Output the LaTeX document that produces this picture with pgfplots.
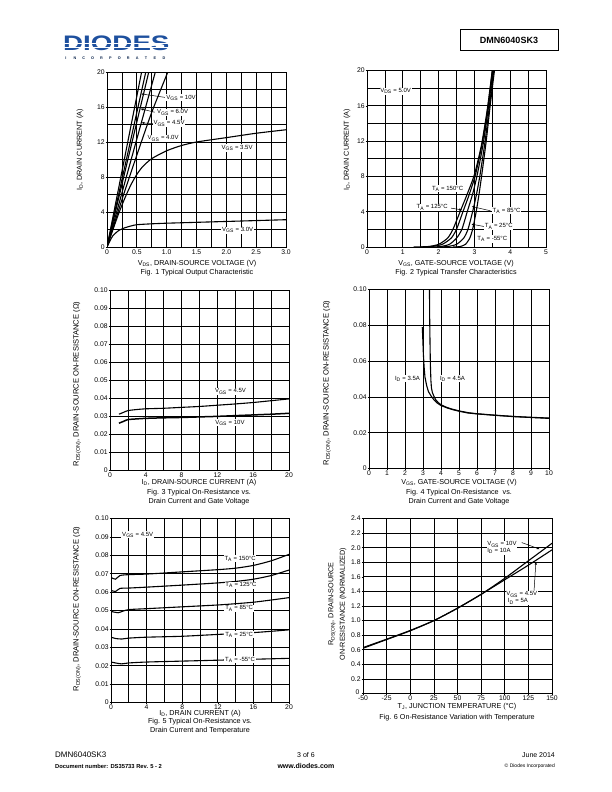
\documentclass[border=0pt]{standalone}
\usepackage{fontspec}
\setmainfont{Liberation Sans}
\usepackage{pgfplots}
\pgfplotsset{compat=1.18}
\usetikzlibrary{arrows.meta}
\definecolor{dblue}{RGB}{30,80,158}
\newcommand\axl{\fontsize{7.2}{8.5}\selectfont}
\newcommand\ayl{\fontsize{7.6}{8.5}\selectfont}
\pgfplotsset{
 ds/.style={scale only axis, anchor=north west, axis line style={line width=0.9pt},
  grid=both, major grid style={black,line width=0.75pt}, minor grid style={black,line width=0.75pt},
  xtick pos=bottom, ytick pos=left, tick align=outside, major tick length=1.3pt, minor tick length=0pt,
  tick style={black,line width=0.6pt},
  ticklabel style={font=\fontsize{6.8}{7.5}\selectfont, inner sep=0.9pt},
  /pgf/number format/assume math mode=true},
}
\tikzset{
 cv/.style={black, line width=1.1pt, mark=none, smooth, tension=0.4},
 lab/.style={font=\fontsize{6}{7}\selectfont, fill=white, inner sep=0.8pt},
 arr/.style={line width=0.5pt, -{Latex[length=3pt,width=2.4pt]}},
}
\begin{document}
\begin{tikzpicture}
\path[use as bounding box, fill=white] (0,0) rectangle (612pt,-792pt);
% header
\node[anchor=south west, inner sep=0, text=dblue, font=\fontsize{21}{21}\selectfont\bfseries] at (63pt,-51pt) {\scalebox{1.32}[1]{DIODES}};
\fill[white] (62pt,-42.6pt) rectangle (172pt,-43.4pt);
\fill[white] (62pt,-46.6pt) rectangle (172pt,-47.2pt);
\foreach \l [count=\i] in {I,N,C,O,R,P,O,R,A,T,E,D}
  \node[font=\fontsize{3.8}{4}\selectfont\bfseries, text=dblue!50!black, inner sep=0] at ({66pt+(\i-1)*8.9pt},-58.3pt) {\l};
\draw[line width=0.8pt] (460pt,-29.5pt) rectangle (558pt,-50.5pt);
\node[font=\fontsize{9}{10}\selectfont\bfseries] at (509pt,-40pt) {DMN6040SK3};
% footer
\node[anchor=west, font=\fontsize{8}{9}\selectfont, inner sep=0] at (55pt,-755pt) {DMN6040SK3};
\node[anchor=west, font=\fontsize{5.8}{7}\selectfont\bfseries, inner sep=0] at (55pt,-766pt) {Document number: DS35733 Rev. 5 - 2};
\node[font=\fontsize{7}{8}\selectfont, inner sep=0] at (306pt,-755pt) {3 of 6};
\node[font=\fontsize{7}{8}\selectfont\bfseries, inner sep=0] at (306pt,-766pt) {www.diodes.com};
\node[anchor=east, font=\fontsize{7}{8}\selectfont, inner sep=0] at (555pt,-755pt) {June 2014};
\node[anchor=east, font=\fontsize{5}{6}\selectfont, inner sep=0] at (555pt,-766pt) {© Diodes Incorporated};

% ---------------- Fig 1
\begin{axis}[ds, at={(107pt,-72pt)}, width=179pt, height=175pt,
  xmin=0, xmax=3, ymin=0, ymax=20, xtick={0,0.5,...,3}, xticklabels={0,0.5,1.0,1.5,2.0,2.5,3.0},
  ytick={0,4,...,20}, minor x tick num=1, minor y tick num=1]
\addplot[cv] coordinates {(0,0)(0.58,20)};
\addplot[cv] coordinates {(0,0)(0.65,20)};
\addplot[cv] coordinates {(0,0)(0.70,20)};
\addplot[cv] coordinates {(0,0)(0.81,20)};
\addplot[cv] coordinates {(0,0)(0.25,5.4)(0.5,10.5)(0.75,15.4)(1.02,20)};
\addplot[cv] coordinates {(0,0)(0.1,2.0)(0.2,3.9)(0.3,5.6)(0.4,7.1)(0.5,8.3)(0.6,9.2)(0.75,10.1)(1.0,11.0)(1.25,11.6)(1.5,12.0)(2.0,12.5)(2.5,13.0)(3.0,13.4)};
\addplot[cv] coordinates {(0,0)(0.05,0.7)(0.1,1.3)(0.2,1.9)(0.3,2.2)(0.4,2.4)(0.5,2.55)(0.75,2.65)(1.0,2.72)(1.5,2.82)(2.0,2.92)(2.5,3.02)(3.0,3.12)};
\draw[arr] (axis cs:0.97,17.1) -- (axis cs:0.57,17.5);
\draw[arr] (axis cs:0.8,15.4) -- (axis cs:0.56,15.8);
\draw[arr] (axis cs:0.78,14.1) -- (axis cs:0.575,14.2);
\node[lab] at (axis cs:1.24,17.06) {V\textsubscript{GS} = 10V};
\node[lab] at (axis cs:1.1,15.4) {V\textsubscript{GS} = 6.0V};
\node[lab] at (axis cs:1.04,14.1) {V\textsubscript{GS} = 4.5V};
\node[lab] at (axis cs:0.94,12.4) {V\textsubscript{GS} = 4.0V};
\node[lab] at (axis cs:2.18,11.3) {V\textsubscript{GS} = 3.5V};
\node[lab] at (axis cs:2.19,1.92) {V\textsubscript{GS} = 3.0V};
\end{axis}
\node[rotate=90, font=\axl] at (80pt,-150pt) {I\textsubscript{D}, DRAIN CURRENT (A)};
\node[font=\axl] at (197pt,-263.5pt) {V\textsubscript{DS}, DRAIN-SOURCE VOLTAGE (V)};
\node[font=\axl] at (197pt,-273pt) {Fig. 1 Typical Output Characteristic};

% ---------------- Fig 2
\begin{axis}[ds, at={(367pt,-70.5pt)}, width=179pt, height=176.5pt,
  xmin=0, xmax=5, ymin=0, ymax=20, xtick={0,1,...,5}, ytick={0,4,...,20}, minor x tick num=1, minor y tick num=1]
\addplot[cv] coordinates {(1.3,0)(1.7,0.05)(2.0,0.3)(2.25,1)(2.4,2)(2.6,4)(2.8,6)(3.0,8.2)(3.2,11.6)(3.36,15.6)(3.5,20)};
\addplot[cv] coordinates {(1.5,0)(1.8,0.05)(2.1,0.3)(2.35,1)(2.5,2)(2.68,4)(2.86,6)(3.03,8.2)(3.22,11.8)(3.37,15.6)(3.5,20)};
\addplot[cv] coordinates {(1.8,0)(2.05,0.05)(2.3,0.3)(2.5,1)(2.65,2)(2.8,4)(2.95,6)(3.08,8.2)(3.25,11.8)(3.39,15.8)(3.52,20)};
\addplot[cv] coordinates {(2.0,0)(2.25,0.05)(2.5,0.3)(2.7,1)(2.82,2)(2.95,4)(3.06,6)(3.15,8)(3.3,12)(3.42,16)(3.54,20)};
\addplot[cv] coordinates {(2.4,0)(2.6,0.05)(2.75,0.3)(2.87,1)(2.95,2)(3.05,4)(3.13,6)(3.2,8)(3.33,12)(3.44,16)(3.56,20)};
\draw[arr] (axis cs:2.35,4.4) -- (axis cs:2.66,4.2);
\draw[arr] (axis cs:3.45,4.1) -- (axis cs:2.92,4.6);
\draw[arr] (axis cs:3.3,2.3) -- (axis cs:2.91,2.6);
\node[lab] at (axis cs:0.8,17.66) {V\textsubscript{DS} = 5.0V};
\node[lab] at (axis cs:2.25,6.6) {T\textsubscript{A} = 150°C};
\node[lab] at (axis cs:1.82,4.5) {T\textsubscript{A} = 125°C};
\node[lab] at (axis cs:3.9,4.1) {T\textsubscript{A} = 85°C};
\node[lab] at (axis cs:3.68,2.35) {T\textsubscript{A} = 25°C};
\node[lab] at (axis cs:3.5,0.9) {T\textsubscript{A} = -55°C};
\end{axis}
\node[rotate=90, font=\axl] at (347pt,-150pt) {I\textsubscript{D}, DRAIN CURRENT (A)};
\node[font=\axl] at (456pt,-263.5pt) {V\textsubscript{GS}, GATE-SOURCE VOLTAGE (V)};
\node[font=\axl] at (456pt,-273pt) {Fig. 2 Typical Transfer Characteristics};

% ---------------- Fig 3
\begin{axis}[ds, at={(110pt,-290pt)}, width=179pt, height=180pt,
  xmin=0, xmax=20, ymin=0, ymax=0.1, xtick={0,4,...,20}, minor x tick num=1,
  ytick={0,0.01,...,0.1}, yticklabels={0,0.01,0.02,0.03,0.04,0.05,0.06,0.07,0.08,0.09,0.10}]
\addplot[cv] coordinates {(1,0.031)(1.5,0.032)(2,0.033)(3,0.0336)(4,0.034)(6,0.0343)(8,0.0348)(10,0.0353)(12,0.036)(14,0.0367)(16,0.0375)(18,0.0385)(20,0.0395)};
\addplot[cv, line width=1.5pt] coordinates {(1,0.026)(1.5,0.027)(2,0.028)(3,0.0284)(4,0.0287)(6,0.029)(8,0.0292)(10,0.0295)(12,0.0298)(14,0.0302)(16,0.0306)(18,0.031)(20,0.0315)};
\node[lab] at (axis cs:13.46,0.0437) {V\textsubscript{GS} = 4.5V};
\node[lab] at (axis cs:13.4,0.0262) {V\textsubscript{GS} = 10V};
\end{axis}
\node[rotate=90, font=\ayl] at (77pt,-384pt) {R\textsubscript{DS(ON)}, DRAIN-SOURCE ON-RESISTANCE (Ω)};
\node[font=\axl] at (199pt,-483pt) {I\textsubscript{D}, DRAIN-SOURCE CURRENT (A)};
\node[font=\axl] at (199pt,-492.5pt) {Fig. 3 Typical On-Resistance vs.};
\node[font=\axl] at (199pt,-501.8pt) {Drain Current and Gate Voltage};

% ---------------- Fig 4
\begin{axis}[ds, at={(369pt,-289.5pt)}, width=180pt, height=179pt,
  xmin=0, xmax=10, ymin=0, ymax=0.1, xtick={0,1,...,10},
  ytick={0,0.02,...,0.1}, yticklabels={\raisebox{1.5pt}{0},0.02,0.04,0.06,0.08,0.10}]
\addplot[black, line width=1.1pt, mark=none] coordinates {(2.96,0.079)(2.99,0.072)(3.02,0.064)(3.06,0.057)(3.11,0.051)(3.2,0.0465)(3.3,0.043)(3.45,0.0405)(3.6,0.0385)(3.8,0.0365)(4.0,0.0352)(4.3,0.034)(4.6,0.033)(5,0.032)(5.5,0.031)(6,0.0305)(7,0.0297)(8,0.029)(9,0.0285)(10,0.028)};
\addplot[black, line width=1.1pt, mark=none] coordinates {(3.36,0.10)(3.37,0.085)(3.39,0.07)(3.41,0.058)(3.44,0.049)(3.47,0.045)(3.52,0.0425)(3.6,0.0405)(3.7,0.0385)(3.85,0.0368)(4.0,0.0356)(4.3,0.0342)(4.6,0.0332)(5,0.0322)(5.5,0.0312)(6,0.0306)(7,0.0298)(8,0.0291)(9,0.0286)(10,0.0282)};
\node[lab] at (axis cs:2.14,0.0501) {I\textsubscript{D} = 3.5A};
\node[lab] at (axis cs:4.64,0.0501) {I\textsubscript{D} = 4.5A};
\end{axis}
\node[rotate=90, font=\ayl] at (327pt,-383pt) {R\textsubscript{DS(ON)}, DRAIN-SOURCE ON-RESISTANCE (Ω)};
\node[font=\axl] at (459pt,-483pt) {V\textsubscript{GS}, GATE-SOURCE VOLTAGE (V)};
\node[font=\axl] at (459pt,-492.5pt) {Fig. 4 Typical On-Resistance \ vs.};
\node[font=\axl] at (459pt,-501.8pt) {Drain Current and Gate Voltage};

% ---------------- Fig 5
\begin{axis}[ds, at={(111pt,-518.5pt)}, width=178pt, height=184pt,
  xmin=0, xmax=20, ymin=0, ymax=0.1, xtick={0,4,...,20}, minor x tick num=1,
  ytick={0,0.01,...,0.1}, yticklabels={0,0.01,0.02,0.03,0.04,0.05,0.06,0.07,0.08,0.09,0.10}]
\addplot[cv] coordinates {(0,0.068)(0.5,0.067)(1,0.069)(2,0.0695)(4,0.0698)(8,0.071)(12,0.0722)(14,0.073)(16,0.0745)(18,0.077)(20,0.0805)};
\addplot[cv] coordinates {(0,0.061)(0.5,0.0603)(1,0.062)(2,0.0622)(4,0.0627)(8,0.0638)(12,0.065)(14,0.0658)(16,0.067)(18,0.069)(20,0.072)};
\addplot[cv] coordinates {(0,0.0495)(0.8,0.0488)(1.3,0.0496)(2,0.0505)(4,0.051)(8,0.052)(12,0.053)(14,0.0537)(16,0.0545)(18,0.0557)(20,0.057)};
\addplot[cv] coordinates {(0,0.0355)(0.5,0.0348)(1.2,0.0345)(2,0.035)(4,0.0355)(8,0.036)(12,0.037)(16,0.038)(18,0.0387)(20,0.0395)};
\addplot[cv] coordinates {(0,0.022)(0.5,0.0215)(1.2,0.021)(2,0.0215)(4,0.022)(8,0.0225)(12,0.023)(16,0.0235)(20,0.024)};
\node[lab] at (axis cs:3.0,0.0912) {V\textsubscript{GS} = 4.5V};
\node[lab] at (axis cs:14.5,0.0782) {T\textsubscript{A} = 150°C};
\node[lab] at (axis cs:14.6,0.0638) {T\textsubscript{A} = 125°C};
\node[lab] at (axis cs:14.4,0.0512) {T\textsubscript{A} = 85°C};
\node[lab] at (axis cs:14.4,0.0368) {T\textsubscript{A} = 25°C};
\node[lab] at (axis cs:14.5,0.0232) {T\textsubscript{A} = -55°C};
\end{axis}
\node[rotate=90, font=\ayl] at (77pt,-609pt) {R\textsubscript{DS(ON)}, DRAIN-SOURCE ON-RESISTANCE (Ω)};
\node[font=\axl] at (200pt,-713.5pt) {I\textsubscript{D}, DRAIN CURRENT (A)};
\node[font=\axl] at (200pt,-722pt) {Fig. 5 Typical On-Resistance vs.};
\node[font=\axl] at (200pt,-731pt) {Drain Current and Temperature};

% ---------------- Fig 6
\begin{axis}[ds, at={(363pt,-518.5pt)}, width=189pt, height=175pt,
  xmin=-50, xmax=150, ymin=0, ymax=2.4, xtick={-50,-25,...,150},
  ytick={0,0.2,...,2.4}, yticklabels={\raisebox{2.5pt}{0\,},0.2,0.4,0.6,0.8,1.0,1.2,1.4,1.6,1.8,2.0,2.2,2.4}]
\addplot[cv] coordinates {(-50,0.62)(-25,0.74)(0,0.86)(25,1.0)(50,1.17)(75,1.36)(100,1.58)(125,1.82)(150,2.06)};
\addplot[cv] coordinates {(-50,0.63)(-25,0.745)(0,0.865)(25,1.0)(50,1.17)(75,1.36)(100,1.56)(125,1.76)(150,1.97)};
\draw[arr] (axis cs:118,2.07) -- (axis cs:137,1.98);
\draw[arr] (axis cs:131,1.41) -- (axis cs:133,1.81);
\node[lab, align=left, anchor=center] at (axis cs:97,2.0) {V\textsubscript{GS} = 10V\\I\textsubscript{D} = 10A};
\node[lab, align=left, anchor=center] at (axis cs:118,1.31) {V\textsubscript{GS} = 4.5V\\ \ I\textsubscript{D} = 5A};
\end{axis}
\node[rotate=90, font=\axl] at (332pt,-604pt) {R\textsubscript{DS(ON)}, DRAIN-SOURCE};
\node[rotate=90, font=\axl] at (343pt,-604pt) {ON-RESISTANCE (NORMALIZED)};
\node[font=\axl] at (457pt,-707pt) {T\textsubscript{J}, JUNCTION TEMPERATURE (°C)};
\node[font=\axl] at (457pt,-717.5pt) {Fig. 6 On-Resistance Variation with Temperature};
\end{tikzpicture}
\end{document}
